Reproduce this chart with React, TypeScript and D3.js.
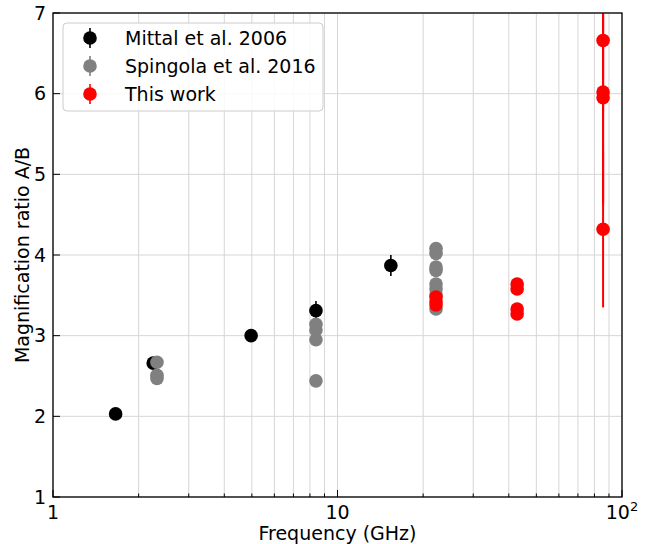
import React from "react";
import * as d3 from "d3";

const mittalFreq = [1.66, 2.25, 4.97, 8.4, 15.4];
const mittalRatio = [2.03, 2.66, 3.0, 3.31, 3.87];
const mittalErr = [0.02, 0.03, 0.03, 0.12, 0.13];

const spingolaFreq = [2.32, 2.32, 2.32, 8.4, 8.4, 8.4, 8.4, 22.2, 22.2, 22.2, 22.2, 22.2, 22.2, 22.2, 22.2];
const spingolaRatio = [2.67, 2.51, 2.47, 3.14, 3.07, 2.95, 2.44, 4.08, 4.02, 3.85, 3.81, 3.64, 3.58, 3.5, 3.33];
const spingolaErr = [0.02, 0.02, 0.02, 0.02, 0.02, 0.02, 0.02, 0.02, 0.02, 0.02, 0.02, 0.02, 0.02, 0.02, 0.02];

const redFreq = [22.2, 22.2, 22.2, 42.8, 42.8, 42.8, 42.8, 85.8, 85.8, 85.8, 85.8];
const redRatio = [3.48, 3.42, 3.38, 3.64, 3.58, 3.33, 3.27, 6.66, 6.02, 5.95, 4.32];
const redErr = [0.03, 0.03, 0.03, 0.03, 0.03, 0.03, 0.03, 0.9, 1.4, 1.3, 0.97];

const yTicks = [1, 2, 3, 4, 5, 6, 7];
const legendLabels = ["Mittal et al. 2006", "Spingola et al. 2016", "This work"];
const legendColors = ["#000000", "#808080", "#ff0000"];

const W = 652, H = 544;
const X0 = 53, X1 = 622, Y0 = 13, Y1 = 497;
const FONT = "DejaVu Sans";
const FS = 19;

export default function App() {
  const x = d3.scaleLog().domain([1, 100]).range([X0, X1]);
  const y = d3.scaleLinear().domain([1, 7]).range([Y1, Y0]);

  const allTicks: number[] = [];
  for (let dec = 1; dec < 100; dec *= 10) {
    for (let k = 1; k < 10; k++) allTicks.push(dec * k);
  }
  allTicks.push(100);
  const majors = [1, 10, 100];

  const series = [
    { f: mittalFreq, r: mittalRatio, e: mittalErr, c: legendColors[0], lw: 1.6 },
    { f: spingolaFreq, r: spingolaRatio, e: spingolaErr, c: legendColors[1], lw: 1.6 },
    { f: redFreq, r: redRatio, e: redErr, c: legendColors[2], lw: 2 },
  ];

  return (
    <svg width={W} height={H} style={{ display: "block", position: "absolute", left: 0, top: 0 }} fontFamily={FONT}>
      <defs>
        <clipPath id="plotclip">
          <rect x={X0} y={Y0} width={X1 - X0} height={Y1 - Y0} />
        </clipPath>
      </defs>
      <rect x={0} y={0} width={W} height={H} fill="#fff" />
      {/* grid */}
      <g stroke="#d6d6d6" strokeWidth={1}>
        {allTicks.map((t) => (
          <line key={"gx" + t} x1={x(t)} x2={x(t)} y1={Y0} y2={Y1} />
        ))}
        {yTicks.map((t) => (
          <line key={"gy" + t} x1={X0} x2={X1} y1={y(t)} y2={y(t)} />
        ))}
      </g>
      {/* data */}
      <g clipPath="url(#plotclip)">
        {series.map((s, si) => (
          <g key={si}>
            {s.f.map((f, i) => (
              <g key={i}>
                <line x1={x(f)} x2={x(f)} y1={y(s.r[i] - s.e[i])} y2={y(s.r[i] + s.e[i])} stroke={s.c} strokeWidth={s.lw} />
                <circle cx={x(f)} cy={y(s.r[i])} r={6.8} fill={s.c} />
              </g>
            ))}
          </g>
        ))}
      </g>
      {/* ticks */}
      <g stroke="#000" strokeWidth={1}>
        {allTicks.map((t) => {
          const len = majors.includes(t) ? 7 : 3.5;
          return <line key={"tx" + t} x1={x(t)} x2={x(t)} y1={Y1} y2={Y1 - len} />;
        })}
        {yTicks.map((t) => (
          <line key={"ty" + t} x1={X0} x2={X0 + 7} y1={y(t)} y2={y(t)} />
        ))}
      </g>
      {/* frame */}
      <rect x={X0} y={Y0} width={X1 - X0} height={Y1 - Y0} fill="none" stroke="#000" strokeWidth={1.3} />
      {/* tick labels */}
      <g fontSize={FS} fill="#000">
        {yTicks.map((t) => (
          <text key={"ly" + t} x={X0 - 7} y={y(t)} dy="0.35em" textAnchor="end">{t}</text>
        ))}
        <text x={x(1)} y={Y1 + 22} textAnchor="middle">1</text>
        <text x={x(10)} y={Y1 + 22} textAnchor="middle">10</text>
        <text x={x(100)} y={Y1 + 22} textAnchor="middle">
          10<tspan fontSize={13} dy={-8}>2</tspan>
        </text>
      </g>
      {/* axis labels */}
      <text x={(X0 + X1) / 2} y={540} textAnchor="middle" fontSize={FS}>Frequency (GHz)</text>
      <text transform={`translate(22,${(Y0 + Y1) / 2}) rotate(-90)`} textAnchor="middle" dy="0.35em" fontSize={FS}>
        Magnification ratio A/B
      </text>
      {/* legend */}
      <g>
        <rect x={63} y={23} width={260} height={88} rx={4} fill="#fff" fillOpacity={0.85} stroke="#cccccc" strokeWidth={1} />
        {legendLabels.map((lab, i) => {
          const cy = 38 + i * 28;
          return (
            <g key={lab}>
              <line x1={90} x2={90} y1={cy - 10} y2={cy + 10} stroke={legendColors[i]} strokeWidth={1.6} />
              <circle cx={90} cy={cy} r={6.8} fill={legendColors[i]} />
              <text x={125} y={cy} dy="0.35em" fontSize={FS}>{lab}</text>
            </g>
          );
        })}
      </g>
    </svg>
  );
}
